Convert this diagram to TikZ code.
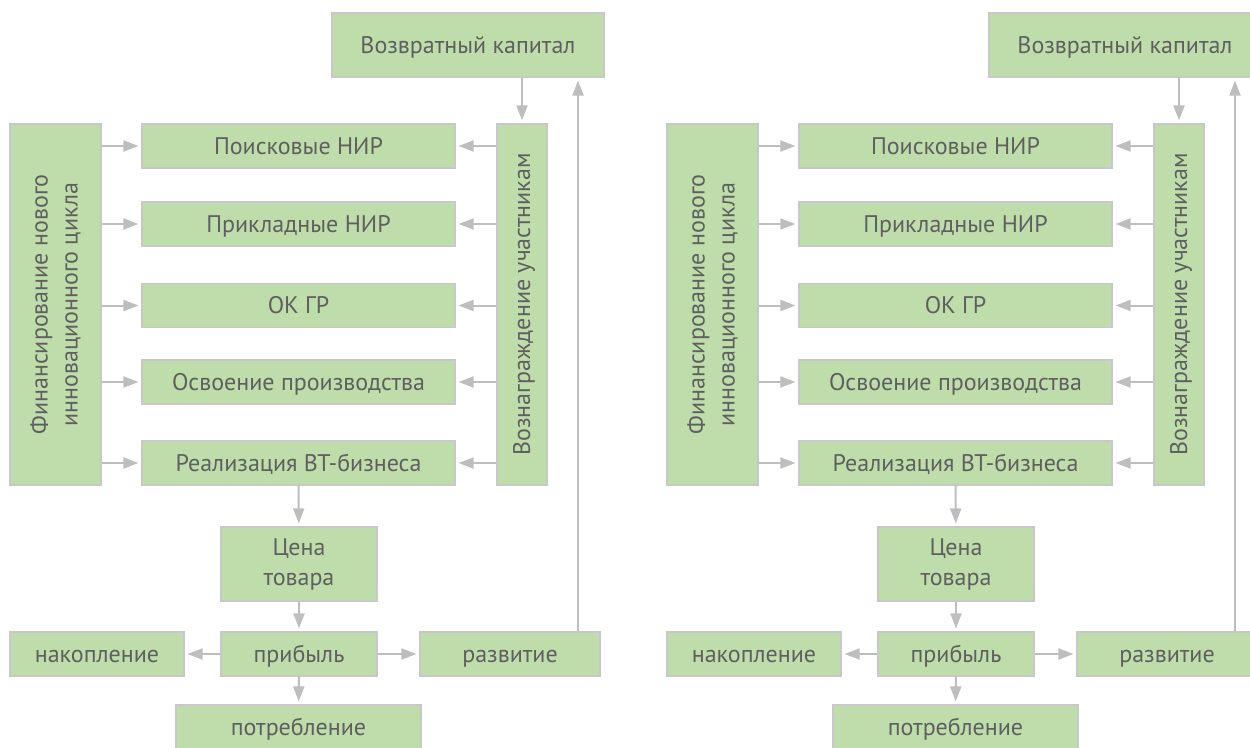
\documentclass[tikz,border=0pt]{standalone}
\usepackage{fontspec}
\setmainfont{PT Sans}
\usetikzlibrary{arrows.meta}
\definecolor{boxgreen}{RGB}{191,221,171}
\definecolor{boxline}{RGB}{200,200,200}
\definecolor{txtgray}{RGB}{95,95,95}
\definecolor{arrgray}{RGB}{190,190,190}
\tikzset{
  blk/.style={draw=boxline, fill=boxgreen, text=txtgray, line width=1.2pt, inner sep=0pt,
    align=center, font=\fontsize{24}{30}\selectfont},
  oneline/.style={blk, text height=17pt, text depth=1pt},
  arr/.style={draw=arrgray, line width=2pt, -{Triangle[length=15pt,width=11pt]}, shorten >=3pt},
}

\begin{document}
\begin{tikzpicture}[x=1pt,y=-1pt]
\useasboundingbox (0,0) rectangle (1250,747);

\foreach \dx/\pre in {0/l,657/r}{
\begin{scope}[xshift=\dx pt, name prefix=\pre-]
  %Shape: Rectangle (top)
  \node[oneline, minimum width=272pt, minimum height=64pt] (vk) at (468,45) {Возвратный капитал};
  %Shape: Rectangle (vertical, left and right)
  \node[blk, rotate=90, minimum width=361pt, minimum height=91pt] (fin) at (55.5,304.5) {Финансирование нового\\инновационного цикла};
  \node[oneline, rotate=90, minimum width=361pt, minimum height=50pt] (voz) at (522,304.5) {Вознаграждение участникам};
  %Shape: Rectangle (stages)
  \node[oneline, minimum width=313pt, minimum height=44pt] (poisk) at (298.5,146) {Поисковые НИР};
  \node[oneline, minimum width=313pt, minimum height=44pt] (prikl) at (298.5,224) {Прикладные НИР};
  \node[oneline, minimum width=313pt, minimum height=44pt] (okgr) at (298.5,305.5) {ОК ГР};
  \node[oneline, minimum width=313pt, minimum height=44pt] (osv) at (298.5,382) {Освоение производства};
  \node[oneline, minimum width=313pt, minimum height=44pt] (real) at (298.5,463) {Реализация ВТ-бизнеса};
  %Shape: Rectangle (bottom)
  \node[blk, minimum width=156pt, minimum height=74pt] (cena) at (299,564) {Цена\\товара};
  \node[oneline, minimum width=156pt, minimum height=44pt] (prib) at (299,654) {прибыль};
  \node[oneline, minimum width=174pt, minimum height=44pt] (nak) at (97,654) {накопление};
  \node[oneline, minimum width=180pt, minimum height=44pt] (razv) at (510,654) {развитие};
  \node[oneline, minimum width=245pt, minimum height=44pt] (potr) at (298.5,727) {потребление};
  \coordinate (ret) at (578,0);

  %Straight Lines
  \foreach \b in {poisk,prikl,okgr,osv,real}{
    \draw[arr] (fin.south |- \b) -- (\b.west);
    \draw[arr] (voz.north |- \b) -- (\b.east);
  }
  \draw[arr] (vk.south -| voz) -- (voz.east);
  \draw[arr] (real) -- (cena);
  \draw[arr] (cena) -- (prib);
  \draw[arr] (prib) -- (potr);
  \draw[arr] (prib) -- (nak);
  \draw[arr] (prib) -- (razv);
  \draw[arr] (razv.north -| ret) -- (vk.south -| ret);
\end{scope}
}
\end{tikzpicture}
\end{document}
